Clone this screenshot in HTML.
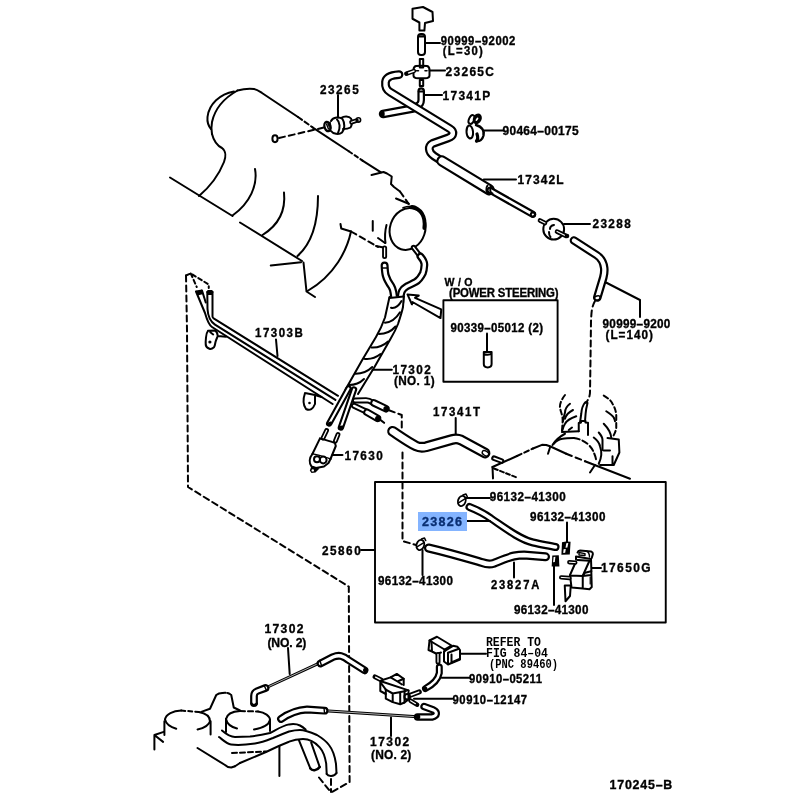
<!DOCTYPE html>
<html><head><meta charset="utf-8"><title>Parts diagram 170245</title>
<style>
html,body{margin:0;padding:0;background:#fff;width:800px;height:800px;overflow:hidden}
svg{display:block;will-change:transform}
.t{font-family:"Liberation Sans",sans-serif;font-weight:bold;fill:#000;stroke:#000;stroke-width:0.35}
.m{font-family:"Liberation Mono",monospace;font-weight:bold;fill:#000}
.l{stroke:#000;fill:none;stroke-width:2;stroke-linecap:round;stroke-linejoin:round}
.d{stroke-dasharray:6 4}
.ds{stroke-dasharray:4 3}
.o{stroke:#000;fill:none;stroke-linecap:round;stroke-linejoin:round}
.i{stroke:#fff;fill:none;stroke-linecap:round;stroke-linejoin:round}
.f{fill:#000;stroke:none}
.w{fill:#fff}
</style></head>
<body>
<svg width="800" height="800" viewBox="0 0 800 800">
<rect x="0" y="0" width="800" height="800" fill="#fff"/>
<!-- ===== TOP FITTINGS & HOSES ===== -->
<g class="l">
  <polygon points="412.5,8.75 423,7 432.5,12 433,21 425,23 424.4,30.6 419.4,30.6 419.4,22.5 412.5,18.75"/>
  <rect x="418" y="34" width="7" height="21" rx="3"/>
  <rect x="419.8" y="59" width="3.4" height="8.5"/>
  <path d="M416,66 C414,66.5 413.5,68 413.5,70 L413.5,75.5 C413.5,77.5 415,78.3 418,78.3 L425,78.3 C428,78.3 429.5,77.5 429.5,75.5 L429.5,70 C429.5,68 429,66.5 427,66 C425,65.5 418,65.5 416,66 Z"/>
  <path d="M416.5,70.8 L418.5,70.8 M425,70.8 L427,70.8" style="stroke-width:1.6"/>
  <path d="M419,36.3 L424,36.3" style="stroke-width:2.2"/>
  <rect x="419.8" y="80" width="3.4" height="6"/>
  <path d="M425,43 L440,43 M429.5,70.6 L445,70.6 M424.4,95 L442,95 M483.75,130.5 L503.5,130.5 M483.8,179.6 L516,179.6 M564,224 L590,224 M606,282.5 L640,300 L640,317"/>
  <path d="M338,95 L338,117.5"/>
</g>
<!-- side tube (behind) -->
<path class="o" style="stroke-width:8.4" d="M383,114 L413,108.5"/><path class="i" style="stroke-width:4.0" d="M383,114 L413,108.5"/>
<ellipse cx="382.5" cy="114" rx="2.2" ry="3.6" class="f"/>
<!-- 17341P tube -->
<path class="o" style="stroke-width:7.6" d="M421.2,91 L421.2,100 C421.2,103 420,105 417,106"/><path class="i" style="stroke-width:3.2" d="M421.2,91 L421.2,100 C421.2,103 420,105 417,106"/>
<path class="l" d="M418.8,91.5 L423.6,91.5" style="stroke-width:2.2"/>
<!-- big hose -->
<path class="o" style="stroke-width:8.8" d="M399,74.6 C392,75 386,77 385.5,82 C385,87 386.5,90 390,92 L449.5,128.5 C454.5,131.5 454,136 448,138 L432.5,143.5 C428,146 428,152 434,156 L441,160.5"/>
<path class="i" style="stroke-width:4.4" d="M399,74.6 C392,75 386,77 385.5,82 C385,87 386.5,90 390,92 L449.5,128.5 C454.5,131.5 454,136 448,138 L432.5,143.5 C428,146 428,152 434,156 L441,160.5"/>
<path class="o" style="stroke-width:4.4" d="M406.5,73.6 L414,71"/><path class="i" style="stroke-width:1.4" d="M407.5,73.3 L414,71"/><circle cx="406.3" cy="73.8" r="2" class="f"/>
<!-- 17342L thick + narrow -->
<path class="o" style="stroke-width:11.4" d="M442,161 L489,189.6"/><path class="i" style="stroke-width:7.0" d="M442,161 L489,189.6"/>
<path class="o" style="stroke-width:7.2" d="M490,190.2 L532.5,214.2"/><path class="i" style="stroke-width:2.8" d="M490,190.2 L532.5,214.2"/>
<g class="l">
  <path d="M487.5,185.5 C485.5,188 486,192 489,194.5 M491,186.5 C489.5,189 490,192.5 492.5,193.5"/>
  <circle cx="533" cy="214.6" r="2.2"/>
</g>
<!-- clip 90464 -->
<g class="l">
  <ellipse cx="471.6" cy="119.5" rx="2.6" ry="4.6" transform="rotate(25 471.6 119.5)"/>
  <ellipse cx="477.3" cy="118.8" rx="3.3" ry="4.6" transform="rotate(25 477.3 118.8)" style="fill:#000"/>
  <ellipse cx="477" cy="119.3" rx="0.9" ry="2" transform="rotate(35 477 119.3)" style="fill:#fff;stroke:none"/>
  <path d="M468.5,125.5 C465.5,128 466,136 469,138 C472,139.5 473.5,136 473,131.5 C472.5,128 471,125 468.5,125.5"/>
  <path d="M476,125 C481,126.5 484.5,130 483.5,135.5 C482.5,139.5 479.5,141.5 476.5,141" style="stroke-width:2.4"/>
  <path d="M477,134 C478,137 478,139.5 476.5,141" style="stroke-width:3.2"/>
</g>
<!-- 23288 -->
<g class="l">
  <circle cx="553.7" cy="229.2" r="10.4"/>
  <path d="M554,225 C551,225.5 550,227.5 550,229 M549,232 C549,235 549.5,236 550.5,237"/>
</g>
<path class="o" style="stroke-width:4.6" d="M540,220.5 L545,223"/><path class="i" style="stroke-width:1.1" d="M540,220.5 L545,223"/>
<path class="o" style="stroke-width:4.6" d="M557,231.6 L566,235.8"/><path class="i" style="stroke-width:1.1" d="M557,231.6 L565,235.4"/>
<circle cx="567" cy="236" r="2.3" class="f"/>
<!-- hose after 23288 -->
<path class="o" style="stroke-width:8.6" d="M574,240.5 L596.5,255 C601,258 603.5,262 604.2,268 C604.6,272 604,275 603.3,277.5 L597.3,297.5"/><path class="i" style="stroke-width:4.2" d="M574,240.5 L596.5,255 C601,258 603.5,262 604.2,268 C604.6,272 604,275 603.3,277.5 L597.3,297.5"/>
<ellipse cx="597.3" cy="298" rx="3" ry="2" transform="rotate(-15 597.3 298)" class="l" style="stroke-width:1.5"/>
<path class="l d" d="M595,301 C591,308 591.5,315 591,321 L590.5,360 L590,392 C590,397 588,400 586,403"/>

<!-- ===== INTAKE MANIFOLD ===== -->
<g class="l">
  <path d="M234,91.5 C220,94 209,104 207.5,117 C207,122 208.5,126 211,129"/>
  <path d="M237.5,90.5 C226,97 215,108 212,122 C211,127 211.5,131 212,134"/>
  <path d="M212,134 C214,142 218,146 222,148 C226,151 226,157 224,162 C220,172 212,185 199,196"/>
  <path d="M237.5,90.5 C243,89 249,88.5 254,89 C257,89.5 259,91 262,93 L298,117"/>
  <path class="d" d="M298,117 L312.5,127.3" style="stroke-dasharray:5 3"/>
  <path d="M312.5,127.3 L348.75,151.25"/>
  <path class="d" d="M348.75,151.25 L362.5,160.6" style="stroke-dasharray:4 3"/>
  <path d="M362.5,160.6 L381,172.3"/>
  <path d="M371.5,175 L383.5,172 L387,173.5 L391.75,176.5 L391,184 L394,187 L400,191.5"/>
  <path class="d" d="M400,191.5 L408.75,204"/>
  <path d="M396,198.5 L408.75,203.75"/>
  <path d="M170,177.5 L232.5,216"/>
  <path d="M240,222.5 L302,261"/>
  <path d="M270.75,265.5 L301,262.3 M303.5,262.5 L306.5,291.5 L315,297"/>
  <path d="M255,169 C258,185 250,203 232.5,215.5"/>
  <path d="M284,192.5 C286,212 277,226 262.5,235"/>
  <path d="M318,196 C318,225 310,245 297.5,256"/>
  <path d="M351,231.5 C347,250 335,275 307.5,291"/>
  <path d="M340.5,224 L341.25,228.5 L351,231.5"/>
  <path class="d" d="M351,231.5 L378,247"/>
  <path d="M372.75,221 L372.75,230.75"/>
  <!-- sensor 23265 -->
  <path class="d" d="M279,138 L324,127.5"/>
  <ellipse cx="275" cy="138.75" rx="2.6" ry="3.4"/>
  <path d="M331,121 C333,117 340,116.5 342.5,119 C345,123 345,129 342,132.5 C339,135 333,134 331,131"/>
  <path d="M337,119.5 C340,122 340.5,128 338,133 M341,118 C344,116 349,116 351,118.5 C352.5,121 352,125.5 350.5,127.5 C348,129 345,129 343,129"/>
  <ellipse cx="327.5" cy="126.5" rx="3" ry="4.8" transform="rotate(-15 327.5 126.5)" style="stroke-width:2.3"/>
  <path d="M326.5,124 L328.5,129 M328,123 L329,126" style="stroke-width:1.4"/>
  <path d="M330,122.5 L330,131" style="stroke-width:1.6"/>
</g>

<path class="o" style="stroke-width:4.6" d="M351.5,122.3 L356.5,120.6"/><path class="i" style="stroke-width:1.1" d="M351.5,122.3 L356.5,120.6"/>
<circle cx="358.4" cy="119.9" r="2.2" class="l" style="stroke-width:1.6"/>
<!-- ===== THROTTLE BODY ===== -->
<g class="l">
  <ellipse cx="407.6" cy="229" rx="17.6" ry="21.3" transform="rotate(18 407.6 229)"/>
  <path d="M403,207.8 C406,206.4 410,206 414.5,206.6" style="stroke-width:1.6"/>
  <path d="M412,206.8 C420,208 426,216 424.3,228" style="stroke-width:3.8"/>
  <path d="M386.5,225 C385,231 384.6,237 385.5,243"/>

  <path d="M378,238 L385,243 M376,246 L386,248"/>
</g>
<path class="o" style="stroke-width:5.0" d="M384.6,248 L384.6,256.5"/><path class="i" style="stroke-width:1.3" d="M384.6,248 L384.6,256.5"/>
<path class="o" style="stroke-width:5.4" d="M413.5,247.5 L420,256"/><path class="i" style="stroke-width:1.3" d="M413.5,247.5 L420,256"/>
<!-- throttle hoses -->
<path class="o" style="stroke-width:8.0" d="M384.6,265.5 C384.8,270 385,273 385.75,275.5 C387,280 389,283 391.4,286.4 C393,289 394,293 394.5,302"/><path class="i" style="stroke-width:3.6" d="M384.6,265.5 C384.8,270 385,273 385.75,275.5 C387,280 389,283 391.4,286.4 C393,289 394,293 394.5,302"/>
<path class="l" d="M381.8,268 L387.6,268" style="stroke-width:1.3"/>
<path class="o" style="stroke-width:7.8" d="M420.5,256.5 C423.5,260 424.6,262 424.4,265 C424.2,268 423.8,271 422.9,273.25 C421,277 419,280 415.75,281.9 C412,284 409,285 406.75,286.4 C404,288 402.5,290 401.9,291.25 C400.8,294 400.5,297 400.4,302"/><path class="i" style="stroke-width:3.4" d="M420.5,256.5 C423.5,260 424.6,262 424.4,265 C424.2,268 423.8,271 422.9,273.25 C421,277 419,280 415.75,281.9 C412,284 409,285 406.75,286.4 C404,288 402.5,290 401.9,291.25 C400.8,294 400.5,297 400.4,302"/>

<!-- ===== 17303B PIPES ===== -->
<g class="l">
  <path d="M212.5,292 L212.5,316.5 C212.5,317.5 213,318 214,318.6 L338,395.8"/>
  <path d="M207.3,292 L207.5,309 C208,318 211,322 215,324.6 L335.4,399.9"/>
  <path d="M196,291.5 L205,313 C207,320 209,325 212,327 L332.6,404"/>
  <path d="M202,290.5 L205.75,302.5"/>
  <path d="M207.3,292 L212.5,292"/>
  <!-- brackets -->
  <path d="M208,330.75 L214.75,330.4 C216,331 217.5,333 217.75,336 L226,336.75 M217.75,336 C217,338 216,340 215.5,342 C215,345 214.5,346.5 214,347.25 C212,349 210,349 209.5,348.75 C207,348 206,346.5 205.75,345 C205.5,342 205.7,340 206,337.5 C206.3,334.5 207,332 208,330.75 M210.3,332.3 L213.2,334.5"/>
  <path d="M305,393 L315,395 L321.5,397 M305,393 C303,399 303,405 306,409 C310,411 313,409 315,404 L315,396"/>
  <path d="M276,339.5 L277.5,356"/>
  <path class="ds" d="M186,275.5 L190.75,273.5 L208.75,284.5 L208.75,288 M190.75,273.5 L196.75,287"/>
</g>
<path class="f" d="M196,290.5 L202,289.5 L203.5,294 L197.5,295.5 Z"/>
<rect x="207.3" y="290" width="5.2" height="5" class="f"/>
<circle cx="209.9" cy="342" r="1.6" class="f"/>
<circle cx="309.5" cy="403" r="1.3" class="f"/>
<!-- tubes after bundle -->
<path class="o" style="stroke-width:6" d="M355,400.5 L366,400.2 C369,400.2 371,401.5 373,402.8"/><path class="i" style="stroke-width:2.2" d="M355,400.5 L366,400.2 C369,400.2 371,401.5 373,402.8"/>
<path class="o" style="stroke-width:7.6" d="M374,403 L385.8,408.7"/><path class="i" style="stroke-width:3.6" d="M374,403 L385.8,408.7"/>
<path class="o" style="stroke-width:6" d="M354,405.8 L364,410.4 L366.5,412"/><path class="i" style="stroke-width:2.2" d="M354,405.8 L364,410.4 L366.5,412"/>
<path class="o" style="stroke-width:7.6" d="M367,412.3 L377.4,418.3"/><path class="i" style="stroke-width:3.6" d="M367,412.3 L377.4,418.3"/>
<circle cx="386.3" cy="409" r="3" class="f"/>
<circle cx="378" cy="418.7" r="3" class="f"/>

<!-- ===== BUNDLE 17302 ===== -->
<path class="w" d="M389.5,297 L385,317.5 C382,326 379,332 376,337 L362.5,359.5 L346,389.5 L358,397 L374.5,367 L391,338 C394,333 396,329 398,324 C400,318 402,312 403,307 L403.75,296.5 Z"/>
<g class="l">
  <path d="M389.5,297 L385,317.5 C382,326 379,332 376,337 L362.5,359.5 L345.5,389.5"/>
  <path d="M403.75,296.5 L403,307 C402,312 400,318 398,324 C396,329 394,333 391,338 L374.5,367 L358,394"/>
  <path d="M389.5,298 C394,297.5 399,297 403.75,296.5"/>
  <path d="M391,307.75 Q397,309 401.5,301 M385,322.75 Q394,322 400,312.25 M379,334 Q389,334 395.5,326.5 M371.5,347.5 Q381,348 388,341.5 M364,358.75 Q373,360 380.5,354 M355,373.75 Q365,374 372.25,367 M349,385 Q358,385 364,379"/>
  <path d="M372.5,369.8 L391.8,369.8"/>
</g>
<!-- tubes down from bundle -->
<path class="o" style="stroke-width:6.4" d="M348.5,388.5 L329.2,423.5"/><path class="i" style="stroke-width:2.2" d="M348.5,388.5 L329.2,423.5"/>
<path class="o" style="stroke-width:6.4" d="M354,389.5 L340.9,427.5"/><path class="i" style="stroke-width:2.2" d="M354,389.5 L340.9,427.5"/>
<ellipse cx="329.4" cy="423.8" rx="3" ry="1.8" transform="rotate(-25 329.4 423.8)" class="f"/>
<ellipse cx="341.1" cy="427.6" rx="3" ry="1.8" transform="rotate(-15 341.1 427.6)" class="f"/>
<!-- 17630 -->
<path class="o" style="stroke-width:4.8" d="M326.6,430.5 L323,438"/><path class="i" style="stroke-width:1.3" d="M326.6,430.5 L323,438"/>
<path class="o" style="stroke-width:4.8" d="M338,434.5 L335.4,441"/><path class="i" style="stroke-width:1.3" d="M338,434.5 L335.4,441"/>
<g class="l">
  <path d="M320,438.4 C325,440 331,441 335,443.2 L335.8,446 L330.5,459 M320,438.4 L312.5,453.8"/>
  <path d="M312.5,453.8 C309,458 309,463 311.5,466.5 L316,468 L324,466.5 L328.5,463 L330.5,459" style="stroke-width:2"/>
  <path d="M312.5,453.8 C318,455 325,456.5 330.5,459" style="stroke-width:1.5"/>
  <circle cx="317" cy="459.3" r="3"/><circle cx="323.2" cy="460" r="3.4"/>
  <path d="M332.5,455 L342.5,455"/>
</g>
<path class="f" d="M311.5,466 L309.8,470.5 L311.5,473 L315.5,472.5 L319.5,468.5 Z"/>
<circle cx="312.8" cy="470.4" r="1.2" fill="#fff"/>

<!-- ===== W/O ARROW & BOX CONTENT ===== -->
<g class="l">
  <path d="M407.5,294.4 L418.75,295.6 L415,297.8 L441.25,309.4 L440.5,318.1 L412.5,302 L411.9,304.4 Z"/>
  <path d="M487,333.5 L487,351"/>
  <path d="M483.8,352 L483.8,364 C483.8,368.5 491.6,368.5 491.6,364 L491.6,352 Z M483.8,353.5 C485,355 490,355 491.6,353.5"/>
</g>

<!-- ===== 17341T hose & dashed guides ===== -->
<path class="o" style="stroke-width:10.8" d="M392.6,431.3 C399,435.5 408,442 416,446 C419,447.5 422,447.6 426,446.8 L452,439.5 C455,438.6 458,438.6 461,440 L485,453"/><path class="i" style="stroke-width:6.4" d="M392.6,431.3 C399,435.5 408,442 416,446 C419,447.5 422,447.6 426,446.8 L452,439.5 C455,438.6 458,438.6 461,440 L485,453"/>
<g class="l">
  <path d="M455.7,434 L455.7,418"/>
  <ellipse cx="485.5" cy="453.3" rx="2.2" ry="3.6" transform="rotate(-60 485.5 453.3)" style="stroke-width:1.3"/>
  <path class="d" d="M186,275.5 L187,330 L188,487 L348.8,586.6 L349.6,782 L331,792.5 M319,777.5 L331,792.5 M331,779 L331,792"/>
  <path class="d" d="M389,410.2 L401.75,415 L401.75,428.5 M379.4,419.1 L386.3,424.6 M402.5,452.5 L402.5,541 L416,545"/>
</g>

<!-- ===== COMPONENT ABOVE LOWER BOX ===== -->
<g class="l">
  <path d="M492.5,467 L517,456"/>
  <path class="d" d="M517,456 L533,448.5" style="stroke-dasharray:5 3"/>
  <path d="M533,448.5 L542,444.8 L546.25,445 L550,446.25 L566.25,453.75"/>
  <path class="d" d="M566.25,453.75 L585,461.25"/>
  <path d="M585,461.25 L630,478.75"/>
  <path d="M550,447.5 L548,453.75 M595,465 L590,472.5"/>
  <path d="M492.5,467 L493,478.4"/>
  <path class="d" d="M494,468.5 L516,477.2" style="stroke-dasharray:4 2.5"/>
  <!-- left leaves -->
  <path class="d" d="M565,395 C561,400 559.5,405 560,407.5 C560.5,411 562,414 562.5,417.5 C563,423 562,428 561.9,432.5" style="stroke-dasharray:5 3"/>
  <path d="M570,403.75 C567,406 565,409 565,412.5 C564,416 563.5,418 563,421"/>
  <path d="M573,410 C569,412 566,415 565,418.75"/>
  <path d="M576.25,416.25 C571,418 567,420 565,423.75 C563.5,426 563,428 562.5,430"/>
  <path d="M572,427.5 L568.75,430"/>
  <path d="M561.9,431.9 L578.75,431.25"/>
  <!-- pipe + connector -->
  <path d="M585,402.5 C583,405 581.5,410 581.25,413.75 L580,422.5 M587.5,403 C586.5,407 585.8,410 585.6,413.75 L585,421.25 M585,402.5 C585.8,401.5 587,401.8 587.5,403"/>
  <path d="M578.75,431.25 L578.75,423 L581,422.5 L581,421 L585.5,421 L585.5,422.5 L588,422.8 L588,435"/>
  <!-- arcs -->
  <path d="M552.5,445 C555,441 559,437 565,433.75"/>
  <path d="M553.75,443.75 C557,440 560,439 562.5,438.75 C566,438 570,438 573.75,438"/>
  <path class="d" d="M573.75,438 C579,438.5 584,441 587.5,443.75 C591,447 593,450 593.75,452.5 C595,455 596,458 596.25,461.25" style="stroke-dasharray:6 3"/>
  <path d="M593.75,437.5 C597,440 599.5,443 600,446.25 C601,449 601.5,452 601.25,455 C601,458 600,461 598.75,463.75"/>
  <path d="M598.75,432.5 C601,435 602.5,437.5 602.5,440 L602.5,450"/>
  <!-- right dashed -->
  <path class="d" d="M603.75,395.6 C608,398 611,400.5 612.5,403.75 C614.5,407 616,411 616.25,415 L616.25,427.5 C616,431 614.5,434 612.5,437.5" style="stroke-dasharray:5 3"/>
  <path d="M606.25,411.25 C609,413 612,415 613.75,417.5 C614.5,419 615,420 615,421.25"/>
  <path d="M603.75,423.75 C606,426 608,428.5 609.4,431.25 C610.5,433.5 611,435.5 611.25,437.5"/>
  <path d="M607.5,438.1 L618.75,439.4 L619.4,452.5 L613.75,465 L600,465 M612.5,456.25 L612.5,465 M603.75,450.6 L610,450.6"/>
</g>
<path class="o" style="stroke-width:5.6" d="M494,458.2 L501.5,461"/><path class="i" style="stroke-width:1.5" d="M494,458.2 L501.5,461"/>

<!-- ===== LOWER BOX CONTENT ===== -->
<path class="o" style="stroke-width:8.0" d="M469.5,507 C477,510 485,514 491,518.5 C505,528 520,539.5 533,542.5 C541,544.5 549,545.5 555.5,547"/><path class="i" style="stroke-width:3.6" d="M469.5,507 C477,510 485,514 491,518.5 C505,528 520,539.5 533,542.5 C541,544.5 549,545.5 555.5,547"/>
<path class="o" style="stroke-width:9.0" d="M428.5,548 C450,553 470,559 482,562.5 C486,564 490,564.5 494,563.2 C502,560 509,557 514,556 C518,555.2 520,555 524,555 L545.5,556.8"/><path class="i" style="stroke-width:4.6" d="M428.5,548 C450,553 470,559 482,562.5 C486,564 490,564.5 494,563.2 C502,560 509,557 514,556 C518,555.2 520,555 524,555 L545.5,556.8"/>
<g class="l">
  <path d="M466,498 L490,498 M462,521 L490,521 M514,562.5 L514,577.5 M422.5,550 L422.5,575 M567,522.5 L567,542 M554,566 L554,605 M592,568 L601,568 M361,550 L374.5,550"/>
  <g transform="translate(462 500.5) rotate(20)"><ellipse cx="0" cy="0.5" rx="3.8" ry="5.2" style="stroke-width:1.8"/><path d="M-2.5,3.5 L2.5,-3" style="stroke-width:1.4"/><path d="M-1,-5.5 L1.5,-7.5 L3.5,-5.5" style="stroke-width:1.6"/></g>
  <g transform="translate(420.5 544.5) rotate(20)"><ellipse cx="0" cy="0.5" rx="3.8" ry="5.2" style="stroke-width:1.8"/><path d="M-2.5,3.5 L2.5,-3" style="stroke-width:1.4"/><path d="M-1,-5.5 L1.5,-7.5 L3.5,-5.5" style="stroke-width:1.6"/></g>
  <path d="M577.5,552.5 C578,551 579,550.6 580,550.6 L591,551.4 C592.5,552 593,553 592.9,554 L591.75,558.1"/>
  <path d="M579,552.5 L585,553.6 L585,555.5 L579,555 Z M586.5,551 C588.5,552 589.5,554 589.5,557" style="stroke-width:1.4"/>
  <path d="M576,556.6 L591,558.9 M576,556.6 L576,559.5"/>
  <path d="M577.5,560 L589.5,560.75 M576,561.5 L570,575 M589.5,560.75 L582.75,575.75 M591,558.9 L591.4,571"/>
  <path d="M582.75,576 L585,572.75 L591.2,571.25"/>
  <path d="M570,575.4 L582.75,576.1 L591,575 M570,575.4 L571.5,587.4 L582.75,588.5 L589.5,589.25 L591.75,587 L591.3,571.5 M582.75,576 L582.75,588.5"/>
  <path d="M590.2,577 L590.2,584" style="stroke-width:1.2"/>
  <path d="M564.75,585.5 L565.5,601.25 L570,596 L570.75,585.5 Z"/>
</g>

<path class="o" style="stroke-width:4.4" d="M569.3,562.2 L575.3,562.6"/><path class="i" style="stroke-width:1.0" d="M569.3,562.2 L575.3,562.6"/>
<path class="o" style="stroke-width:4.4" d="M561.2,577.4 L569.5,578"/><path class="i" style="stroke-width:1.0" d="M561.2,577.4 L569.5,578"/>
<path class="f" d="M562,542.3 L566,541.6 L570.6,541.8 L569.8,554.5 L561.4,554.8 Z"/>
<path fill="#fff" d="M566.3,543.3 L568.3,543.1 L567.4,547.5 L565.5,547.8 Z M563.6,549.2 L565.8,549 L565.2,552.8 L563.2,553 Z"/>
<path class="f" d="M552.3,555.6 L558.8,555.2 L559.4,566.5 L551.7,566.6 Z"/>
<path fill="#fff" d="M553.6,557 L555.4,556.8 L554.8,562 L553.1,562.2 Z"/>
<!-- ===== BOTTOM AREA ===== -->
<g class="l">
  <path d="M288,648 L289.7,674 M391,717.5 L391,736"/>
  <path d="M265.5,688 L319.8,662.8" style="stroke-width:3"/>
  <path d="M324.6,710.7 L417.5,716.8" style="stroke-width:3"/>
</g>
<path d="M265.5,688 L319.8,662.8 M324.6,710.7 L417.5,716.8" style="stroke:#fff;stroke-width:0.7"/>
<path class="o" style="stroke-width:7.8" d="M254,703 L254,696 C254,693.5 255,692 257.5,691 L265.5,688"/><path class="i" style="stroke-width:3.4" d="M254,703 L254,696 C254,693.5 255,692 257.5,691 L265.5,688"/>
<path class="o" style="stroke-width:7.8" d="M320.5,663.5 L333,657 C336,655.8 339,655.5 341,656 C344,656.8 346,658 348,659.8 L364.5,670.3"/><path class="i" style="stroke-width:3.4" d="M320.5,663.5 L333,657 C336,655.8 339,655.5 341,656 C344,656.8 346,658 348,659.8 L364.5,670.3"/>
<path class="o" style="stroke-width:7.8" d="M281,719 C288,714 298,710 307,709.5 L324.6,710.7"/><path class="i" style="stroke-width:3.4" d="M281,719 C288,714 298,710 307,709.5 L324.6,710.7"/>
<path class="o" style="stroke-width:7.4" d="M417.5,717 L432,717 C437.5,716 437.5,712 433.5,710 L424,706.5"/><path class="i" style="stroke-width:3.0" d="M417.5,717 L432,717 C437.5,716 437.5,712 433.5,710 L424,706.5"/>
<g class="l" style="stroke-width:1.4">
  <path d="M264.5,686.3 L266.1,689.6 M319.8,660.3 L321.4,665.2 M324,708 L324.6,713.3"/>
</g>
<circle cx="418" cy="717" r="2.4" class="f"/>
<circle cx="365.5" cy="670.3" r="2.5" class="f"/>
<path d="M251.5,703.5 C252.5,705.5 255.5,705.5 256.8,703.5" class="l" style="stroke-width:2.4"/>
<!-- 90910-05211 hose -->
<path class="o" style="stroke-width:7.0" d="M425.5,688.5 C432,685 438,680 439.3,673 L439.3,667"/><path class="i" style="stroke-width:2.6" d="M425.5,688.5 C432,685 438,680 439.3,673 L439.3,667"/>
<circle cx="425" cy="689" r="2.5" class="f"/>
<!-- VSV 89460 -->
<g class="l">
  <path d="M429.5,640.5 L437,636.75 L451.5,645.5 L444.5,649.5 Z"/>
  <path d="M429.5,640.5 L428.5,650 L432,651.5 L431.5,642 M432,651.5 L437,654 L441,652.5"/>
  <path d="M444.5,649.5 L444.5,651.5"/>
  <path d="M444,651.5 L453,645.8 L457.5,646.8 L460,650 L460,659.5 L448,664.5 L444,661.5 Z"/>
  <path d="M448,652.8 L459,648.8 M448,652.8 L448,664 M451.5,654.5 L451.5,662.5 L459.5,659"/>
  <path d="M460,653.75 L486,653.75 M441.75,677.75 L469.5,677.75"/>
</g>
<path class="o" style="stroke-width:5.0" d="M438,654.5 L438,662"/><path class="i" style="stroke-width:1.3" d="M438,654.5 L438,662"/>
<!-- VSV 90910-12147 -->
<path class="o" style="stroke-width:4.8" d="M375,676.8 L381,679.8"/><path class="i" style="stroke-width:1.3" d="M375.6,677.1 L381,679.8"/>
<path class="o" style="stroke-width:5.0" d="M410.6,695.2 L419.3,691.9"/><path class="i" style="stroke-width:1.5" d="M410.6,695.2 L418.8,692.1"/>
<path class="o" style="stroke-width:4.6" d="M410.6,700.7 L417,704.6"/><path class="i" style="stroke-width:1.1" d="M410.6,700.7 L415.5,703.7"/>
<circle cx="417.4" cy="704.9" r="1.8" class="f"/>
<g class="l">
  <path d="M381,680.5 L390.6,677.4 L396.8,673.9 L403.7,678.75 L403.7,685"/>
  <path d="M390.6,677.4 L397.5,681.5 L403.7,678.75 M397.5,681.5 L402,684.5"/>
  <path d="M381.7,681.5 L408.5,690.4"/>
  <path d="M380.3,682 L380.3,691 L385.8,694 M380.3,682 L385.8,689.7"/>
  <path d="M385.8,689.7 L385.8,698.7 L392.7,702.1 L400.2,704.2 L404.5,702.5"/>
  <path d="M385.8,689.7 L392.7,693.5 L406,691 M392.7,693.5 L392.7,702 M400.2,692.5 L400.2,704"/>
  <path d="M404.5,691 L404.5,702.5 L408.5,699.5 L408.5,690.4"/>
  <circle cx="407.2" cy="696.8" r="2.8"/>
  <path d="M414,698.75 L452.25,698.75"/>
</g>

<!-- ===== BOTTOM-LEFT ENGINE ===== -->
<g class="l">
  <!-- left cylinder -->
  <path d="M165,719.4 C166,714 173,711 181.25,710.6 M198.75,711.9 C205,713 210,716 210,721.25"/>
  <path class="d" d="M181.25,710.6 L198.75,711.9" style="stroke-dasharray:4 3"/>
  <path d="M165,719.4 C166,724 170,727 176.25,728.75 M197.5,729.4 C204,728 209,725 210,721.25"/>
  <path d="M164.4,721.25 L164.4,735 M210.6,721.25 L210.6,734.4"/>
  <path d="M154.4,735 L163.75,731.9 M154.4,735 L154.4,749.4 M154.4,735 L163.1,741.9"/>
  <!-- bump -->
  <path d="M201.25,711.9 L210,708.75 L216.25,695 C218,693.5 220,693 222.5,693"/>
  <path class="d" d="M222.5,693 C226,692.5 229,693 231.25,695" style="stroke-dasharray:3 2"/>
  <path d="M231.25,695 L233.75,707.5 L240,710.5"/>
  <!-- right cylinder -->
  <path d="M226,719 C227,714 232,711.5 240,711 M258,711.5 C265,712.5 270,716 270,720"/>
  <path class="d" d="M240,711 L258,711.5" style="stroke-dasharray:5 3"/>
  <path d="M226,719 C227,724 231,727 237,728.5 M254,729.5 C262,728 269,725 270,720"/>
  <path d="M226,719 L226,732 M270,720 L270,731"/>
  <!-- line A: cylinder base / flange -->
  <path d="M222,730.5 C226,734 231,737 235,737 L250,736.5 C256,736 262,735 270,733 C276,730 282,726 289,724.4 C293,723.8 297,724 300,725.5 C302,726.5 304,728 305.6,729.5"/>
  <!-- line B: hose outer -->
  <path d="M219,737 C223,740 227,744 231,744.5 C236,745.2 245,745 255,743.5 C262,742.5 268,740 273,738 C280,735 285,733 289,731.5 C293,730.5 296,730 300,730 C304,730 310,732 317,735 C322,738 326,741 329,745 C333,750 335,757 336,764 L336.5,773"/>
  <!-- line C: hose inner / base -->
  <path d="M240,763 L266,752 C273,748.5 283,744 289,741.7 C293,740 297,739 303,739 C308,739 314,741 319.7,747.3 C323,751 325,756 326.2,763.7 L326.7,774"/>
  <path d="M326.7,774 C328,776.5 334,777 336.5,773"/>
  <path class="d" d="M232,753 L266,751.5" style="stroke-dasharray:5 3"/>
  <!-- base -->
  <path d="M197.5,748 L225,765 C227,767 229,767.5 231.25,767.5 L235,766.25"/>
  <path class="d" d="M235,766.25 L240,763" />
  <!-- small hose -->
  <path d="M299,740.3 L310.3,768.4 M311.2,742.6 L319.7,767"/>
  <path d="M310.3,768.4 C312,771 317,771 319.7,767" style="stroke-width:2.6"/>
  <path d="M279.4,746 L279.4,776"/>
</g>

<!-- ===== BOXES ===== -->
<g class="l" style="stroke-width:1.9">
  <rect x="443.4" y="300.3" width="114.2" height="81.4"/>
  <rect x="375" y="482" width="290.75" height="140.5"/>
</g>

<rect x="418" y="512" width="49" height="19" fill="#84b4ff"/>
<g>
<text class="t" transform="translate(440.70 45.2) scale(0.92 1)" style="font-size:12.3px;letter-spacing:0.609px">90999–92002</text>
<text class="t" transform="translate(442.80 55.2) scale(0.92 1)" style="font-size:12.3px;letter-spacing:1.391px">(L=30)</text>
<text class="t" transform="translate(445.60 75.5) scale(0.92 1)" style="font-size:13px;letter-spacing:1.391px">23265C</text>
<text class="t" transform="translate(442.50 100) scale(0.92 1)" style="font-size:13px;letter-spacing:1.413px">17341P</text>
<text class="t" transform="translate(502.50 134.5) scale(0.92 1)" style="font-size:13px;letter-spacing:0.326px">90464–00175</text>
<text class="t" transform="translate(517.50 184) scale(0.92 1)" style="font-size:13px;letter-spacing:1.196px">17342L</text>
<text class="t" transform="translate(592.50 228) scale(0.92 1)" style="font-size:12.8px;letter-spacing:1.495px">23288</text>
<text class="t" transform="translate(320.00 94) scale(0.92 1)" style="font-size:12.8px;letter-spacing:1.630px">23265</text>
<text class="t" transform="translate(444.50 285.5) scale(0.92 1)" style="font-size:11.5px;letter-spacing:0.272px">W / O</text>
<text class="t" transform="translate(449.00 296.9) scale(0.92 1)" style="font-size:12.4px;letter-spacing:-0.181px">(POWER STEERING)</text>
<text class="t" transform="translate(450.50 332) scale(0.92 1)" style="font-size:12.5px;letter-spacing:0.388px">90339–05012 (2)</text>
<text class="t" transform="translate(602.50 328) scale(0.92 1)" style="font-size:12.8px;letter-spacing:0.302px">90999–9200</text>
<text class="t" transform="translate(605.50 339.3) scale(0.92 1)" style="font-size:12.8px;letter-spacing:1.087px">(L=140)</text>
<text class="t" transform="translate(255.00 337) scale(0.92 1)" style="font-size:12.5px;letter-spacing:1.630px">17303B</text>
<text class="t" transform="translate(392.50 374) scale(0.92 1)" style="font-size:12.8px;letter-spacing:1.495px">17302</text>
<text class="t" transform="translate(394.00 385.3) scale(0.92 1)" style="font-size:12.8px;letter-spacing:0.362px">(NO. 1)</text>
<text class="t" transform="translate(433.00 416.3) scale(0.92 1)" style="font-size:12.5px;letter-spacing:1.739px">17341T</text>
<text class="t" transform="translate(344.50 460) scale(0.92 1)" style="font-size:12.8px;letter-spacing:1.495px">17630</text>
<text class="t" transform="translate(489.70 501.4) scale(0.92 1)" style="font-size:12.7px;letter-spacing:0.500px">96132–41300</text>
<text class="t" transform="translate(530.00 520.5) scale(0.92 1)" style="font-size:12.7px;letter-spacing:0.435px">96132–41300</text>
<text class="t" transform="translate(601.00 572) scale(0.92 1)" style="font-size:13px;letter-spacing:1.522px">17650G</text>
<text class="t" transform="translate(322.00 554.5) scale(0.92 1)" style="font-size:12.8px;letter-spacing:1.630px">25860</text>
<text class="t" transform="translate(378.00 585.2) scale(0.92 1)" style="font-size:12.7px;letter-spacing:0.380px">96132–41300</text>
<text class="t" transform="translate(491.00 588.7) scale(0.92 1)" style="font-size:12.2px;letter-spacing:1.957px">23827A</text>
<text class="t" transform="translate(514.00 614.2) scale(0.92 1)" style="font-size:12.7px;letter-spacing:0.326px">96132–41300</text>
<text class="t" transform="translate(469.00 683) scale(0.92 1)" style="font-size:12.3px;letter-spacing:0.489px">90910–05211</text>
<text class="t" transform="translate(452.50 704) scale(0.92 1)" style="font-size:12.3px;letter-spacing:0.598px">90910–12147</text>
<text class="t" transform="translate(264.40 632.7) scale(0.92 1)" style="font-size:13.2px;letter-spacing:1.467px">17302</text>
<text class="t" transform="translate(267.50 647.4) scale(0.92 1)" style="font-size:13.2px;letter-spacing:-0.181px">(NO. 2)</text>
<text class="t" transform="translate(370.00 746) scale(0.92 1)" style="font-size:13px;letter-spacing:1.630px">17302</text>
<text class="t" transform="translate(371.00 758.5) scale(0.92 1)" style="font-size:13px;letter-spacing:0.181px">(NO. 2)</text>
<text class="t" transform="translate(609.50 789) scale(0.92 1)" style="font-size:13.5px;letter-spacing:0.854px">170245–B</text>
<text class="t" transform="translate(421.90 526) scale(0.92 1)" style="font-size:13.7px;letter-spacing:1.359px;fill:#0a2f73;stroke:#0a2f73">23826</text>
<text class="m" x="486" y="646" textLength="55" lengthAdjust="spacingAndGlyphs" style="font-size:12.5px">REFER TO</text>
<text class="m" x="486" y="657" textLength="62" lengthAdjust="spacingAndGlyphs" style="font-size:12.5px">FIG 84–04</text>
<text class="m" x="489" y="667.5" textLength="69" lengthAdjust="spacingAndGlyphs" style="font-size:12.5px">(PNC 89460)</text>
</g>
</svg>
</body></html>
